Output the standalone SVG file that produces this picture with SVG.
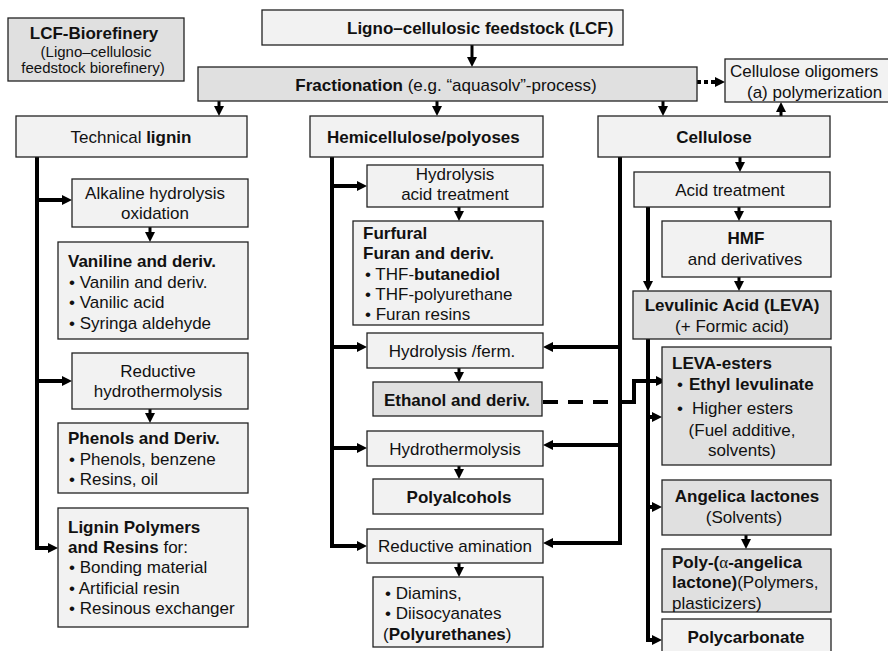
<svg xmlns="http://www.w3.org/2000/svg" width="888" height="651" viewBox="0 0 888 651">
<defs>
<style>
text { font-family: "Liberation Sans", Arial, Helvetica, sans-serif; font-size: 17px; fill: #111; }
.b { font-weight: bold; }
.c { text-anchor: middle; }
.s { font-size: 15px; }
.bl { fill: #f2f2f2; stroke: #222; stroke-width: 1.3; }
.bd { fill: #e0e0e0; stroke: #222; stroke-width: 1.3; }
.cn { fill: none; stroke: #000; stroke-width: 4; stroke-linejoin: miter; }
.th { stroke-width: 3; }
.dash { stroke-dasharray: 15 10; }
.dot { stroke-dasharray: 4 3; }
</style>
<marker id="ah" viewBox="0 0 10 10" markerUnits="userSpaceOnUse" markerWidth="10" markerHeight="11" refX="0" refY="5" orient="auto">
<path d="M0,0 L10,5 L0,10 z" fill="#000"/>
</marker>
</defs>
<rect width="888" height="651" fill="#fff"/>

<g id="connectors">
<path class="cn th" d="M472,45 V57" marker-end="url(#ah)"/>
<path class="cn th" d="M219,101 V106" marker-end="url(#ah)"/>
<path class="cn th" d="M437,101 V106" marker-end="url(#ah)"/>
<path class="cn th" d="M663,101 V106" marker-end="url(#ah)"/>
<path class="cn th" d="M781,116 V112" marker-end="url(#ah)"/>
<path class="cn dot" d="M697,82 H715" marker-end="url(#ah)"/>
<path class="cn th" d="M740,157 V162" marker-end="url(#ah)"/>

<path class="cn" d="M37,157 V548 H48" marker-end="url(#ah)"/>
<path class="cn" d="M37,200 H62" marker-end="url(#ah)"/>
<path class="cn" d="M37,381 H62" marker-end="url(#ah)"/>
<path class="cn th" d="M150,227 V232" marker-end="url(#ah)"/>
<path class="cn th" d="M150,409 V413" marker-end="url(#ah)"/>

<path class="cn" d="M332,157 V546 H357" marker-end="url(#ah)"/>
<path class="cn" d="M332,186 H357" marker-end="url(#ah)"/>
<path class="cn" d="M332,347 H357" marker-end="url(#ah)"/>
<path class="cn" d="M332,448 H357" marker-end="url(#ah)"/>
<path class="cn th" d="M459,207 V211" marker-end="url(#ah)"/>
<path class="cn th" d="M459,368 V372" marker-end="url(#ah)"/>
<path class="cn th" d="M459,466 V469" marker-end="url(#ah)"/>
<path class="cn th" d="M459,563 V567" marker-end="url(#ah)"/>

<path class="cn" d="M620,157 V543 H553" marker-end="url(#ah)"/>
<path class="cn" d="M620,347 H553" marker-end="url(#ah)"/>
<path class="cn" d="M620,445 H553" marker-end="url(#ah)"/>

<path class="cn dash" d="M543,402 H610"/>
<path class="cn" d="M618,402 H634 V381 H656" marker-end="url(#ah)"/>

<path class="cn" d="M648,207 V281" marker-end="url(#ah)"/>
<path class="cn th" d="M739,207 V211" marker-end="url(#ah)"/>
<path class="cn th" d="M739,277 V281" marker-end="url(#ah)"/>
<path class="cn" d="M648,339 V640 H652" marker-end="url(#ah)"/>
<path class="cn" d="M648,417 H652" marker-end="url(#ah)"/>
<path class="cn" d="M648,507 H652" marker-end="url(#ah)"/>
<path class="cn th" d="M746,535 V539" marker-end="url(#ah)"/>
</g>

<g id="lcf-biorefinery">
<rect class="bd" x="8" y="18" width="176" height="63"/>
<text class="b c" x="94" y="39">LCF-Biorefinery</text>
<text class="s c" x="96" y="57">(Ligno–cellulosic</text>
<text class="s c" x="93" y="73">feedstock biorefinery)</text>
</g>

<g id="feedstock">
<rect class="bl" x="262" y="10" width="361" height="35"/>
<text class="b" x="347" y="34">Ligno–cellulosic feedstock (LCF)</text>
</g>

<g id="fractionation">
<rect class="bd" x="198" y="67" width="499" height="34"/>
<text class="c" x="446" y="91"><tspan class="b">Fractionation</tspan> (e.g. “aquasolv”-process)</text>
</g>

<g id="oligomers">
<rect class="bl" x="725" y="59" width="170" height="43"/>
<text x="730" y="77">Cellulose oligomers</text>
<text x="747" y="98">(a) polymerization</text>
</g>

<g id="lignin">
<rect class="bl" x="16" y="116" width="231" height="41"/>
<text class="c" x="131" y="143">Technical <tspan class="b">lignin</tspan></text>
</g>

<g id="hemicellulose">
<rect class="bl" x="310" y="116" width="233" height="41"/>
<text class="b" x="327" y="143">Hemicellulose/polyoses</text>
</g>

<g id="cellulose">
<rect class="bl" x="598" y="116" width="232" height="41"/>
<text class="b c" x="714" y="143">Cellulose</text>
</g>

<g id="alkaline">
<rect class="bl" x="72" y="179" width="176" height="48"/>
<text class="c" x="155" y="199">Alkaline hydrolysis</text>
<text class="c" x="155" y="219">oxidation</text>
</g>

<g id="vaniline">
<rect class="bl" x="58" y="242" width="190" height="97"/>
<text class="b" x="68" y="267">Vaniline and deriv.</text>
<text x="69" y="288">• Vanilin and deriv.</text>
<text x="69" y="308">• Vanilic acid</text>
<text x="69" y="329">• Syringa aldehyde</text>
</g>

<g id="reductive-hydrothermolysis">
<rect class="bl" x="72" y="353" width="176" height="56"/>
<text class="c" x="158" y="377">Reductive</text>
<text class="c" x="158" y="397">hydrothermolysis</text>
</g>

<g id="phenols">
<rect class="bl" x="58" y="423" width="190" height="70"/>
<text class="b" x="68" y="444">Phenols and Deriv.</text>
<text x="69" y="465">• Phenols, benzene</text>
<text x="69" y="485">• Resins, oil</text>
</g>

<g id="lignin-polymers">
<rect class="bl" x="58" y="508" width="190" height="119"/>
<text class="b" x="68" y="533">Lignin Polymers</text>
<text x="68" y="553"><tspan class="b">and Resins</tspan> for:</text>
<text x="69" y="573">• Bonding material</text>
<text x="69" y="594">• Artificial resin</text>
<text x="69" y="614">• Resinous exchanger</text>
</g>

<g id="hydrolysis-acid">
<rect class="bl" x="367" y="165" width="176" height="42"/>
<text class="c" x="455" y="180">Hydrolysis</text>
<text class="c" x="455" y="200">acid treatment</text>
</g>

<g id="furfural">
<rect class="bl" x="353" y="221" width="190" height="104"/>
<text class="b" x="363" y="239">Furfural</text>
<text class="b" x="363" y="259">Furan and deriv.</text>
<text x="365" y="280">• THF-<tspan class="b">butanediol</tspan></text>
<text x="365" y="300">• THF-polyurethane</text>
<text x="365" y="320">• Furan resins</text>
</g>

<g id="hydrolysis-ferm">
<rect class="bl" x="367" y="333" width="176" height="35"/>
<text class="c" x="452" y="357">Hydrolysis /ferm.</text>
</g>

<g id="ethanol">
<rect class="bd" x="373" y="382" width="169" height="34"/>
<text class="b c" x="457" y="406">Ethanol and deriv.</text>
</g>

<g id="hydrothermolysis">
<rect class="bl" x="367" y="431" width="176" height="35"/>
<text class="c" x="455" y="455">Hydrothermolysis</text>
</g>

<g id="polyalcohols">
<rect class="bl" x="373" y="479" width="170" height="35"/>
<text class="b c" x="459" y="503">Polyalcohols</text>
</g>

<g id="reductive-amination">
<rect class="bl" x="367" y="529" width="176" height="34"/>
<text class="c" x="455" y="552">Reductive amination</text>
</g>

<g id="diamins">
<rect class="bl" x="373" y="577" width="170" height="70"/>
<text x="385" y="599">• Diamins,</text>
<text x="385" y="619">• Diisocyanates</text>
<text x="383" y="640">(<tspan class="b">Polyurethanes</tspan>)</text>
</g>

<g id="acid-treatment">
<rect class="bl" x="634" y="172" width="196" height="35"/>
<text class="c" x="730" y="196">Acid treatment</text>
</g>

<g id="hmf">
<rect class="bl" x="662" y="221" width="169" height="56"/>
<text class="b c" x="746" y="244">HMF</text>
<text class="c" x="745" y="265">and derivatives</text>
</g>

<g id="leva">
<rect class="bd" x="633" y="291" width="198" height="48"/>
<text class="b c" x="732" y="311">Levulinic Acid (LEVA)</text>
<text class="c" x="732" y="332">(+ Formic acid)</text>
</g>

<g id="leva-esters">
<rect class="bd" x="662" y="347" width="169" height="118"/>
<text class="b" x="672" y="369">LEVA-esters</text>
<text x="677" y="390">•</text>
<text class="b" x="689" y="390">Ethyl levulinate</text>
<text x="677" y="414">•</text>
<text x="692" y="414">Higher esters</text>
<text class="c" x="742" y="436">(Fuel additive,</text>
<text class="c" x="742" y="456">solvents)</text>
</g>

<g id="angelica">
<rect class="bd" x="662" y="480" width="169" height="55"/>
<text class="b c" x="747" y="502">Angelica lactones</text>
<text class="c" x="744" y="523">(Solvents)</text>
</g>

<g id="poly-angelica">
<rect class="bd" x="662" y="549" width="169" height="63"/>
<text x="672" y="568"><tspan class="b">Poly-(</tspan><tspan font-family="'Liberation Serif', serif">α</tspan><tspan class="b">-angelica</tspan></text>
<text x="672" y="588"><tspan class="b">lactone)</tspan>(Polymers,</text>
<text x="672" y="609">plasticizers)</text>
</g>

<g id="polycarbonate">
<rect class="bl" x="662" y="619" width="169" height="40"/>
<text class="b c" x="746" y="643">Polycarbonate</text>
</g>
</svg>
